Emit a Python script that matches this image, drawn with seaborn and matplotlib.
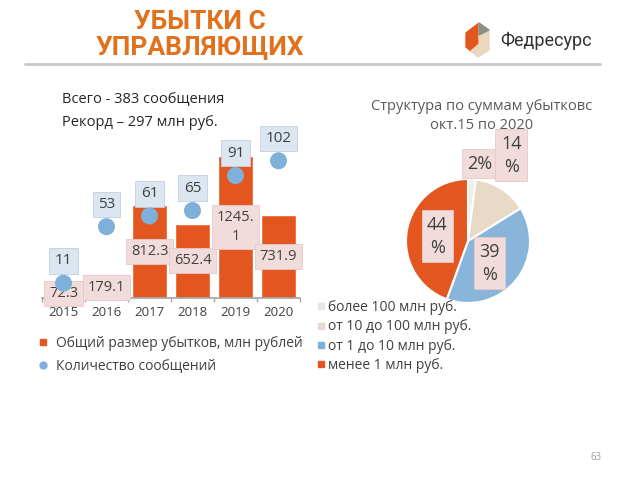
import numpy as np
import matplotlib
matplotlib.use("Agg")
import matplotlib.pyplot as plt
from matplotlib.lines import Line2D
from matplotlib.patches import Polygon
import seaborn as sns

# ---------------- data ----------------
years = ["2015", "2016", "2017", "2018", "2019", "2020"]
losses = [72.3, 179.1, 812.3, 652.4, 1245.1, 731.9]
counts = [11, 53, 61, 65, 91, 102]
bar_legend = "Общий размер убытков, млн рублей"
pt_legend = "Количество сообщений"

pie_labels = ["более 100 млн руб.", "от 10 до 100 млн руб.",
              "от 1 до 10 млн руб.", "менее 1 млн руб."]
pie_values = [2, 14, 39, 44]
pie_title = "Структура по суммам убытковс\nокт.15 по 2020"

title = "УБЫТКИ С\nУПРАВЛЯЮЩИХ"
info_lines = ["Всего - 383 сообщения", "Рекорд – 297 млн руб."]
logo_text = "Федресурс"
page_no = "63"

# ---------------- style ----------------
sns.set_theme(style="white")
plt.rcParams["font.family"] = ["Open Sans", "DejaVu Sans"]

ORANGE = "#E4561F"
TITLE_OR = "#E2711D"
BLUE = "#7FB0D9"
PIE_COLORS = ["#EDEEE6", "#E8DAC6", "#89B5DB", "#E4561F"]
TXT = "#404040"
PINK = "#F2DCDB"
LBLUE = "#DCE6F1"

W, H = 640, 480
fig = plt.figure(figsize=(6.4, 4.8), dpi=100)

def fx(x):
    return x / W

def fy(y):
    return 1 - y / H

# ---------------- header ----------------
fig.text(fx(200), fy(35), title, ha="center", va="center", color=TITLE_OR,
         fontsize=19, fontweight="bold", family=["Roboto", "DejaVu Sans"],
         linespacing=1.15)
fig.add_artist(Line2D([fx(25), fx(600)], [fy(64), fy(64)], color="#C8C8C8", lw=2))

# logo
fig.add_artist(Polygon([[fx(466), fy(33)], [fx(479), fy(23)], [fx(479), fy(44)],
                        [fx(471), fy(51)], [fx(466), fy(47)]],
                       closed=True, color="#E2571E"))
fig.add_artist(Polygon([[fx(479), fy(23)], [fx(489), fy(30)], [fx(489), fy(50)],
                        [fx(478), fy(57)], [fx(471), fy(51)], [fx(479), fy(44)]],
                       closed=True, color="#E9D7BE"))
fig.add_artist(Polygon([[fx(479), fy(23)], [fx(489), fy(30)], [fx(479), fy(35)]],
                       closed=True, color="#8E8E86"))
fig.text(fx(500), fy(41), logo_text, ha="left", va="center", color="#333333",
         fontsize=13, family=["Roboto", "DejaVu Sans"])

for i, s in enumerate(info_lines):
    fig.text(fx(62), fy(100 + 22 * i), s, ha="left", va="center", color="#262626",
             fontsize=10.5)

# ---------------- bar + points ----------------
ax = fig.add_axes([fx(42), fy(298), fx(300) - fx(42), fy(150) - fy(298)])
sns.barplot(x=years, y=losses, color=ORANGE, saturation=1, width=0.83, ax=ax)
ax.set_ylim(0, 1298)
ax.set_xlim(-0.5, len(years) - 0.5)
for sp in ["top", "right", "left"]:
    ax.spines[sp].set_visible(False)
ax.spines["bottom"].set_color("#A6A6A6")
ax.set_yticks([])
ax.set_xlabel("")
ax.set_ylabel("")
ax.tick_params(axis="x", length=0, labelsize=9.5, labelcolor="#404040", pad=6)
ax.set_xticks(np.arange(len(years) + 1) - 0.5, minor=True)
ax.tick_params(axis="x", which="minor", length=3, color="#A6A6A6", bottom=True)

def wrap(v):
    s = f"{v:.1f}"
    return s if len(s) <= 5 else s[:5] + "\n" + s[5:]

ax.bar_label(ax.containers[0], labels=[wrap(v) for v in losses], label_type="center",
             fontsize=10.5, color=TXT, linespacing=1.35,
             bbox=dict(boxstyle="square,pad=0.35", fc=PINK, ec="#E6C9C8", lw=0.6))

ax2 = ax.twinx()
sns.scatterplot(x=np.arange(len(counts)), y=counts, ax=ax2, s=150, color=BLUE,
                edgecolor="none", zorder=5)
ax2.set_ylim(0, 110)
ax2.set_xlim(-0.5, len(years) - 0.5)
ax2.axis("off")
for i, c in enumerate(counts):
    ax2.annotate(str(c), (i, c), xytext=(0, 16), textcoords="offset points",
                 ha="center", va="center", fontsize=11, color=TXT,
                 bbox=dict(boxstyle="square,pad=0.35", fc=LBLUE, ec="#C5D0DE", lw=0.6))

handles = [Line2D([], [], marker="s", ls="none", color=ORANGE, markersize=5),
           Line2D([], [], marker="o", ls="none", color=BLUE, markersize=5)]
fig.legend(handles, [bar_legend, pt_legend], loc="upper left",
           bbox_to_anchor=(fx(39), fy(336)), frameon=False, fontsize=10,
           handlelength=0.6, handletextpad=0.6, labelspacing=0.55,
           labelcolor="#404040", borderpad=0, borderaxespad=0)

# ---------------- pie ----------------
fig.text(fx(482), fy(116), pie_title, ha="center", va="center", color="#595959",
         fontsize=10.5, linespacing=1.4)
pax = fig.add_axes([fx(406), fy(303), fx(124), fy(0) - fy(124)])
wedges, _ = pax.pie(pie_values, colors=PIE_COLORS, startangle=90, counterclock=False,
                    wedgeprops=dict(edgecolor="white", linewidth=1.5))
pax.set_xlim(-1, 1)
pax.set_ylim(-1, 1)
pax.set_aspect("equal")
label_dist = [1.26, 1.55, 0.5, 0.5]
angle_shift = [-5, 6, -7, 1]
for w, v, d, a in zip(wedges, pie_values, label_dist, angle_shift):
    ang = np.deg2rad((w.theta1 + w.theta2) / 2 + a)
    txt = f"{v}%" if v < 10 else f"{v}\n%"
    pax.text(d * np.cos(ang), d * np.sin(ang), txt, ha="center", va="center",
             fontsize=13, color="#404040", linespacing=1.35, clip_on=False,
             bbox=dict(boxstyle="square,pad=0.3", fc=PINK, ec="#E6C9C8", lw=0.6))

phandles = [Line2D([], [], marker="s", ls="none", color=c, markersize=4)
            for c in ["#E6E6E6", "#E8D8D4", BLUE, ORANGE]]
fig.legend(phandles, pie_labels, loc="upper left",
           bbox_to_anchor=(fx(318), fy(300)), frameon=False, fontsize=10,
           handlelength=0.4, handletextpad=0.35, labelspacing=0.32,
           labelcolor="#404040", borderpad=0, borderaxespad=0)

fig.text(fx(596), fy(457), page_no, ha="center", va="center", color="#A0A0A0",
         fontsize=7)

fig.savefig("out.png", dpi=100)
